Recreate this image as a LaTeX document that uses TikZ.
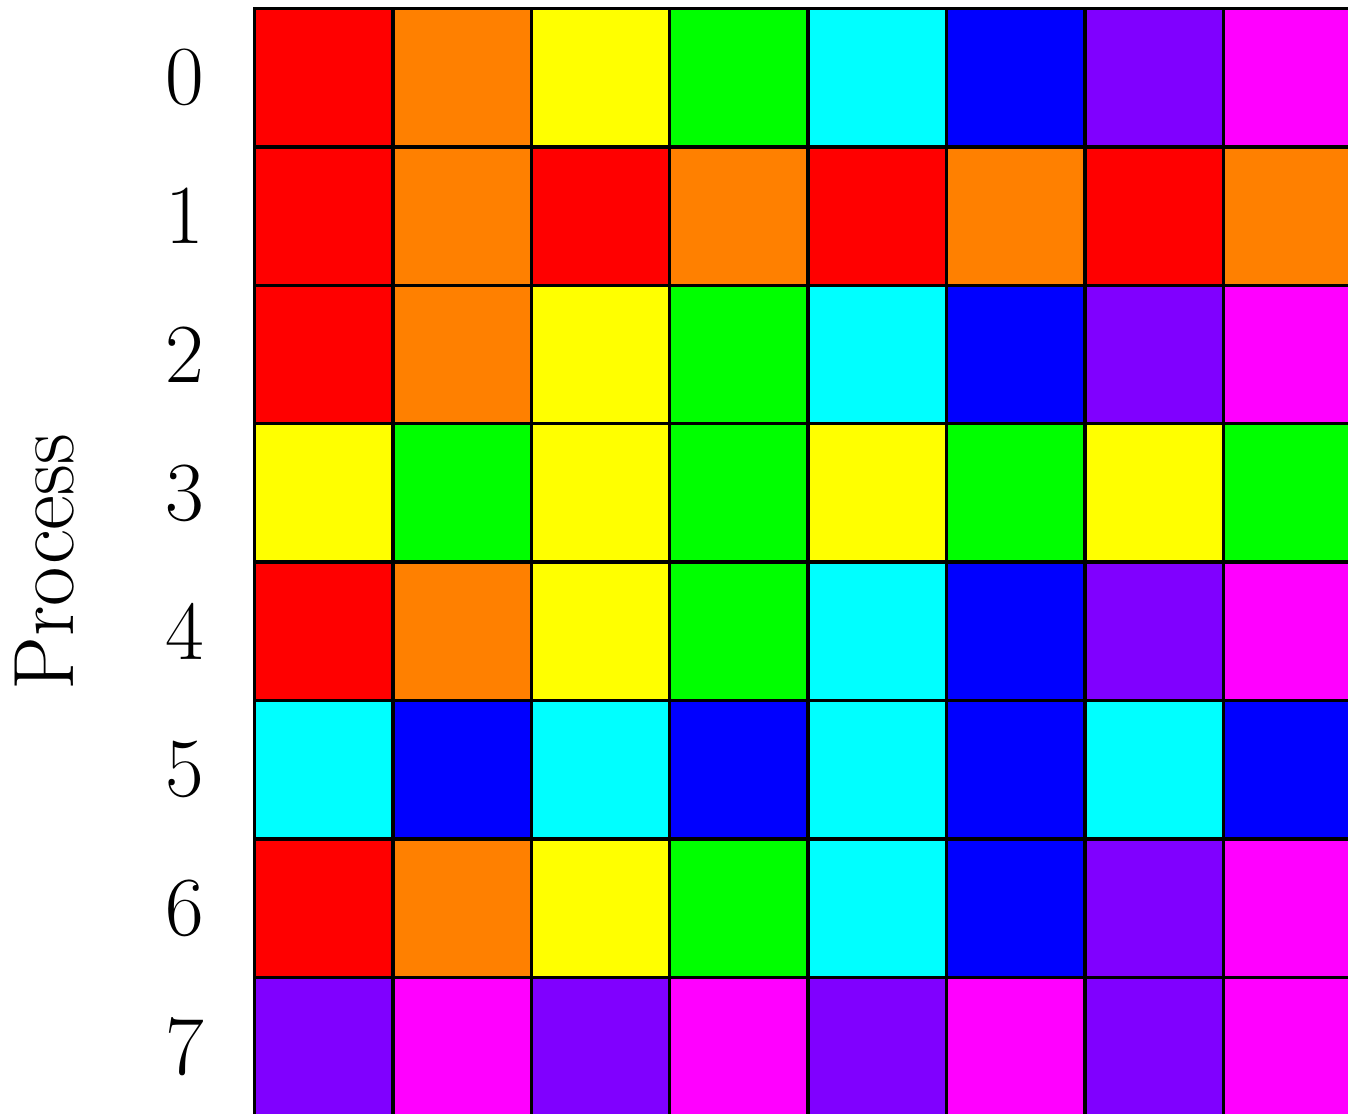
\documentclass[tikz,border=0pt]{standalone}
\definecolor{cR}{RGB}{255,0,0}
\definecolor{cO}{RGB}{255,128,0}
\definecolor{cY}{RGB}{255,255,0}
\definecolor{cG}{RGB}{0,255,0}
\definecolor{cC}{RGB}{0,255,255}
\definecolor{cB}{RGB}{0,0,255}
\definecolor{cV}{RGB}{128,0,255}
\definecolor{cM}{RGB}{255,0,255}
\begin{document}
\begin{tikzpicture}[
  cell/.style={rectangle, draw=black, line width=0.7pt, minimum size=1cm, inner sep=0pt, outer sep=0pt},
  lab/.style={font=\fontsize{17.28}{20}\selectfont, inner sep=0pt}]
\path[use as bounding box] (0,0) rectangle (9.7399,8.0419);
\clip (0,0) rectangle (9.7399,8.0419);
\foreach \r/\lst in {0/{cR,cO,cY,cG,cC,cB,cV,cM},
                     1/{cR,cO,cR,cO,cR,cO,cR,cO},
                     2/{cR,cO,cY,cG,cC,cB,cV,cM},
                     3/{cY,cG,cY,cG,cY,cG,cY,cG},
                     4/{cR,cO,cY,cG,cC,cB,cV,cM},
                     5/{cC,cB,cC,cB,cC,cB,cC,cB},
                     6/{cR,cO,cY,cG,cC,cB,cV,cM},
                     7/{cV,cM,cV,cM,cV,cM,cV,cM}}{
  \foreach \col [count=\c from 0] in \lst {
    \node[cell, fill=\col] (cell-\r-\c) at ({1.8389+\c+0.5},{7.9805-\r-0.5}) {};
  }
  \node[lab] (lab-\r) at (1.337,{7.9805-\r-0.5}) {\r};
}
\node[lab, font=\fontsize{17.6}{20}\selectfont, rotate=90] (proc) at (0.325,3.9805) {Process};
\end{tikzpicture}
\end{document}
